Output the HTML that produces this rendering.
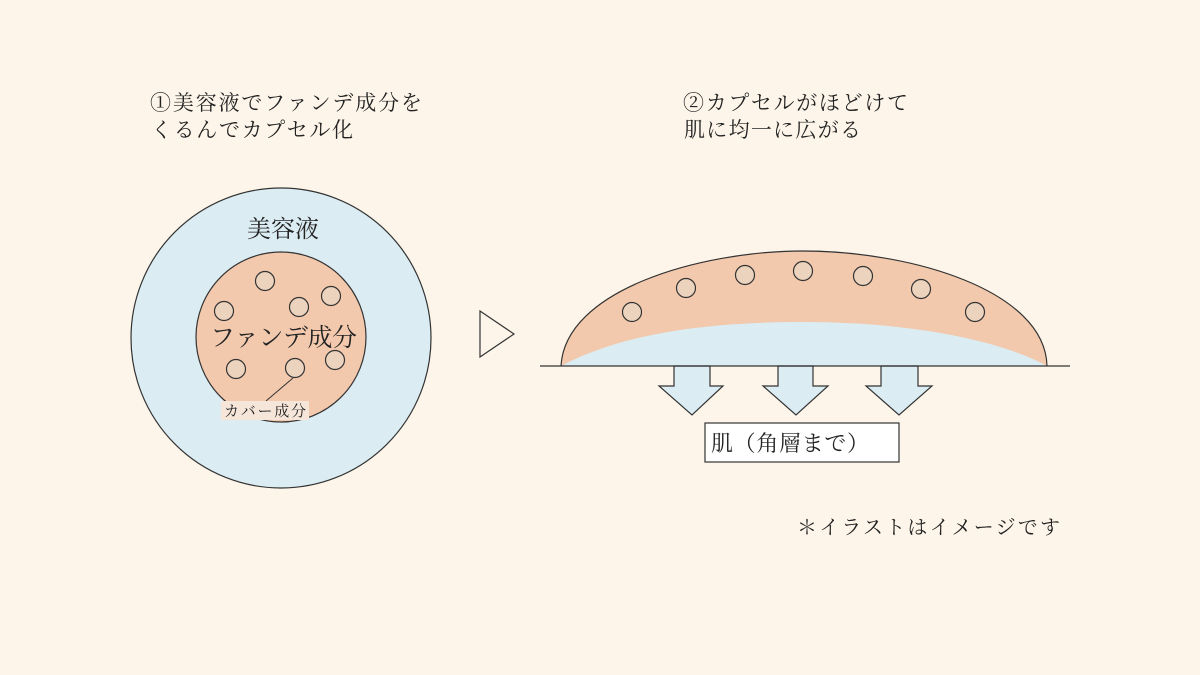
<!DOCTYPE html>
<html><head><meta charset="utf-8"><style>
body{margin:0;background:#fdf5e9;}
svg{display:block}
text{font-family:"Liberation Serif","Noto Serif CJK SC",serif;fill:#222}
</style></head><body>
<svg width="1200" height="675" viewBox="0 0 1200 675">
<rect width="1200" height="675" fill="#fdf5e9"/>
<text x="150" y="110" font-size="21" textLength="272" lengthAdjust="spacing">①美容液でファンデ成分を</text>
<text x="151" y="137" font-size="21" textLength="202" lengthAdjust="spacing">くるんでカプセル化</text>
<text x="683" y="110" font-size="21" textLength="225" lengthAdjust="spacing">②カプセルがほどけて</text>
<text x="684" y="137" font-size="21" textLength="177" lengthAdjust="spacing">肌に均一に広がる</text>
<circle cx="281" cy="338" r="150" fill="#dbecf3" stroke="#333" stroke-width="1.2"/>
<circle cx="281" cy="337" r="85" fill="#f2c9ad" stroke="#333" stroke-width="1.2"/>
<text x="283" y="237" font-size="24" text-anchor="middle">美容液</text>
<g fill="#ecd3bd" stroke="#333" stroke-width="1.2">
<circle cx="265" cy="281" r="9.5"/><circle cx="224" cy="311" r="9.5"/><circle cx="299" cy="307" r="9.5"/><circle cx="331" cy="296" r="9.5"/><circle cx="236" cy="369" r="9.5"/><circle cx="295" cy="368" r="9.5"/><circle cx="335" cy="360" r="9.5"/>
</g>
<text x="210" y="346" font-size="25" textLength="147" lengthAdjust="spacing">ファンデ成分</text>
<line x1="293" y1="378" x2="266" y2="401" stroke="#333" stroke-width="1"/>
<rect x="221" y="401" width="88" height="19" fill="#f6e6da"/>
<text x="224" y="416" font-size="15" textLength="82" lengthAdjust="spacing">カバー成分</text>
<polygon points="480,311 480,357 514,334" fill="none" stroke="#333" stroke-width="1.2"/>
<path d="M561,366 C565,290 700,251 803,251 C910,251 1045,290 1047,366 Z" fill="#f2c9ad"/>
<path d="M561,366 C620,335 700,322 803,322 C910,322 1000,340 1047,366 Z" fill="#dbecf3"/>
<path d="M561,366 C565,290 700,251 803,251 C910,251 1045,290 1047,366" fill="none" stroke="#333" stroke-width="1.2"/>
<g fill="#ecd3bd" stroke="#333" stroke-width="1.2">
<circle cx="632" cy="312" r="9.5"/><circle cx="686" cy="288" r="9.5"/><circle cx="745" cy="275" r="9.5"/><circle cx="803" cy="271" r="9.5"/><circle cx="863" cy="276" r="9.5"/><circle cx="921" cy="289" r="9.5"/><circle cx="975" cy="312" r="9.5"/>
</g>
<g fill="#dbecf3" stroke="#333" stroke-width="1.2">
<polygon points="674,366 710,366 710,386 723,386 692,415 659,386 674,386"/>
<polygon points="778,366 813,366 813,386 828,386 796,415 763,386 778,386"/>
<polygon points="881,366 918,366 918,386 932,386 899,415 866,386 881,386"/>
</g>
<line x1="540" y1="366" x2="1070" y2="366" stroke="#333" stroke-width="1.2"/>
<rect x="705" y="423" width="194" height="39" fill="#fff" stroke="#333" stroke-width="1.2"/>
<text x="711" y="451" font-size="22" textLength="158" lengthAdjust="spacing">肌（角層まで）</text>
<text x="797" y="534" font-size="20" textLength="263" lengthAdjust="spacing">＊イラストはイメージです</text>
</svg>
</body></html>
